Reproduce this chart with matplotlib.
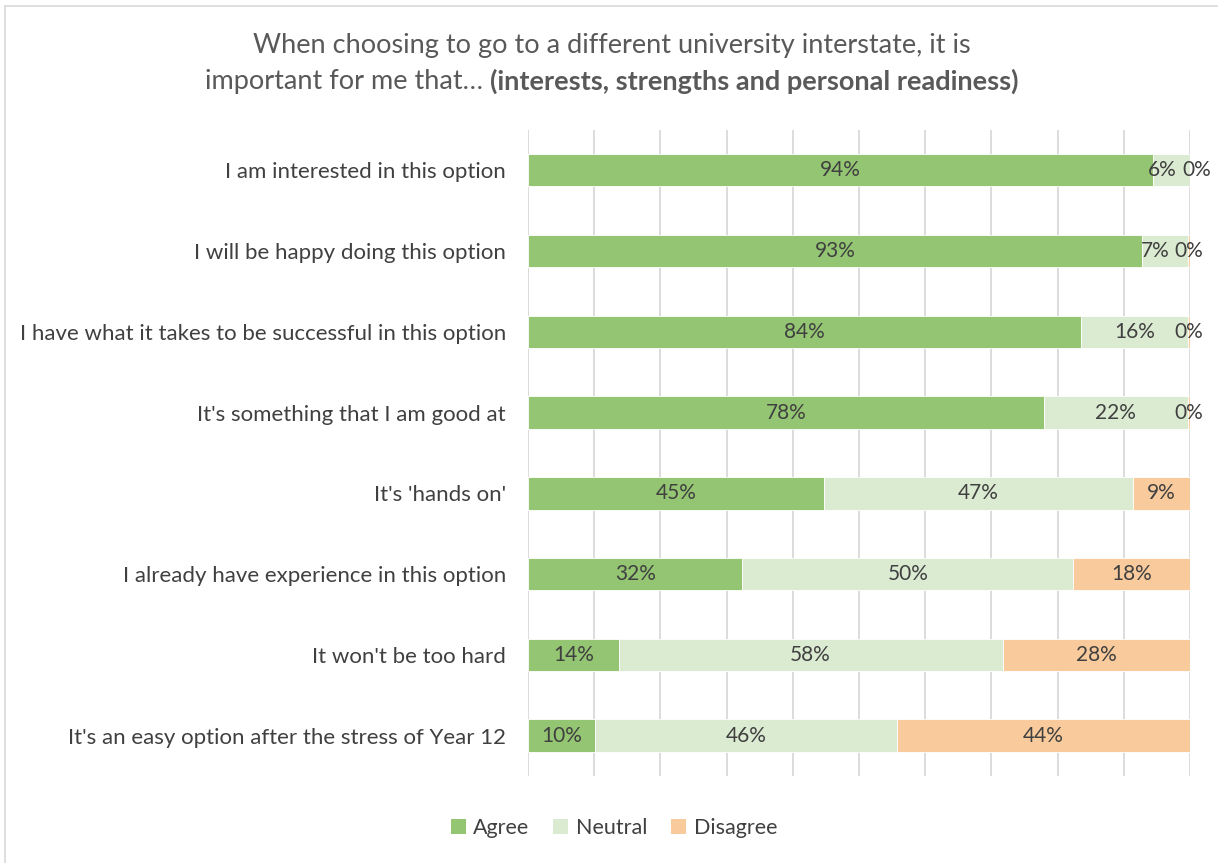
import matplotlib.pyplot as plt
from matplotlib.patches import Rectangle, Patch

plt.rcParams['font.family'] = ['Lato', 'DejaVu Sans']

# survey statements, top to bottom
statements = [
    "I am interested in this option",
    "I will be happy doing this option",
    "I have what it takes to be successful in this option",
    "It's something that I am good at",
    "It's 'hands on'",
    "I already have experience in this option",
    "It won't be too hard",
    "It's an easy option after the stress of Year 12",
]
agree = [94.4, 92.7, 83.5, 77.9, 44.7, 32.4, 13.7, 10.1]
neutral = [5.6, 7.0, 16.2, 21.8, 46.7, 50.0, 58.0, 45.6]
disagree = [0.0, 0.3, 0.3, 0.3, 8.6, 17.6, 28.3, 44.3]

series = ["Agree", "Neutral", "Disagree"]
colours = ["#93c572", "#dbebd2", "#f9cb9c"]
text_col = "#404040"

fig = plt.figure(figsize=(12.18, 8.63), dpi=100)
ax = fig.add_axes([0.4335, 0.1008, 0.9770 - 0.4335, 0.8494 - 0.1008])

ypos = list(range(len(statements)))
left = [0.0] * len(statements)
for name, vals, col in zip(series, [agree, neutral, disagree], colours):
    ax.barh(ypos, vals, left=left, height=0.4, color=col, edgecolor="white",
            linewidth=0.6, zorder=3, label=name)
    for y, l, v in zip(ypos, left, vals):
        x = l + v / 2
        # labels for empty or very thin segments get nudged apart
        if name == "Disagree" and v < 1:
            x = 101.0 if v == 0 else 99.8
        elif name == "Neutral" and v < 8:
            x = l + v / 2 - 1.4
        ax.text(x, y, "%.0f%%" % v, ha="center", va="center",
                fontsize=15, color=text_col, zorder=4)
    left = [a + b for a, b in zip(left, vals)]

ax.set_xlim(0, 100)
ax.set_ylim(len(statements) - 0.5, -0.5)
ax.set_xticks(range(0, 101, 10))
ax.xaxis.grid(True, color="#d9d9d9", linewidth=1.3, zorder=0)
ax.tick_params(axis="x", length=0, labelbottom=False)
ax.tick_params(axis="y", length=0, pad=16)
ax.set_yticks(ypos)
ax.set_yticklabels(statements, fontsize=16, color=text_col)
for s in ax.spines.values():
    s.set_visible(False)

# title: plain first part, bold tail on the second line
fig.text(0.502, 0.947, "When choosing to go to a different university interstate, it is",
         ha="center", va="center", fontsize=19.5, color="#595959")
renderer = fig.canvas.get_renderer()
t1 = fig.text(0, 0.906, "important for me that\u2026 ", ha="left", va="center",
              fontsize=19.5, color="#595959")
t2 = fig.text(0, 0.906, "(interests, strengths and personal readiness)", ha="left",
              va="center", fontsize=19.5, color="#595959", fontweight="bold")
w1 = t1.get_window_extent(renderer).width / fig.bbox.width
w2 = t2.get_window_extent(renderer).width / fig.bbox.width
x0 = 0.502 - (w1 + w2) / 2
t1.set_x(x0)
t2.set_x(x0 + w1)

handles = [Patch(facecolor=c, edgecolor="none") for c in colours]
fig.legend(handles, series, loc="center", bbox_to_anchor=(0.504, 0.041), ncol=3,
           frameon=False, fontsize=15.5, handlelength=0.7, handleheight=0.7,
           handletextpad=0.35, columnspacing=1.1, labelcolor=text_col)

# outer chart frame
fig.patches.append(Rectangle((5 / 1218, -0.1), 1.2, 1 - 6 / 863 + 0.1,
                             transform=fig.transFigure, fill=False,
                             edgecolor="#d9d9d9", linewidth=1.2))

fig.savefig("out.png", dpi=100)
